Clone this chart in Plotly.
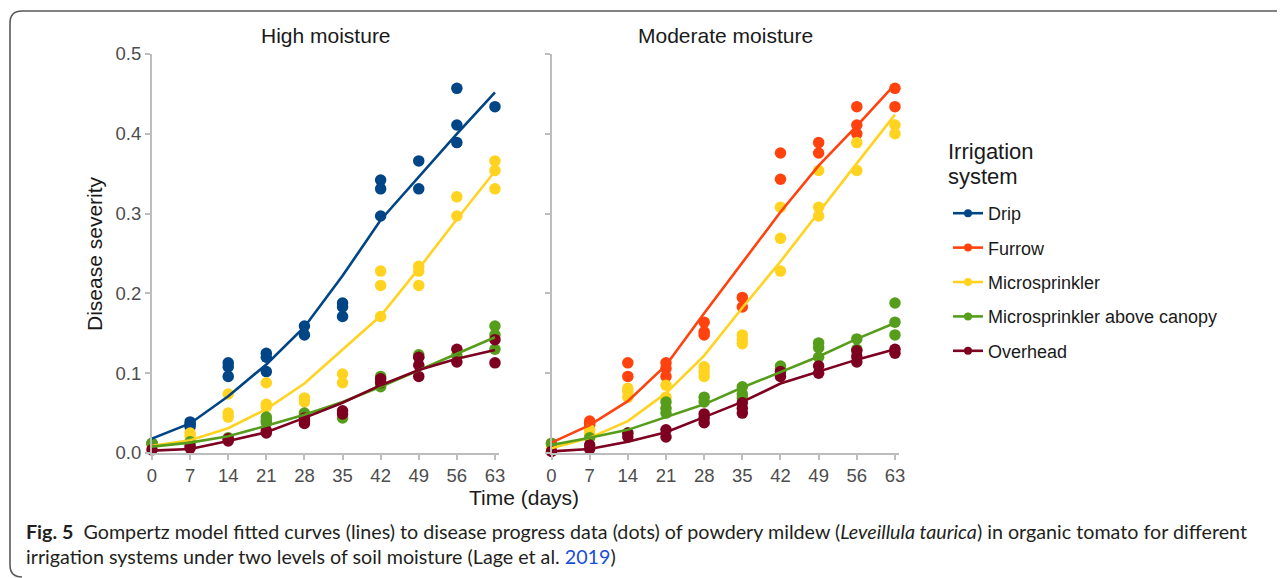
import plotly.graph_objects as go

W, H = 1285, 578
OFF = 8  # page body margin

days = [0, 7, 14, 21, 28, 35, 42, 49, 56, 63]
y_ticks = [0.0, 0.1, 0.2, 0.3, 0.4, 0.5]
y_tick_labels = ["0.0", "0.1", "0.2", "0.3", "0.4", "0.5"]
panel_titles = ["High moisture", "Moderate moisture"]
systems = ["Drip", "Furrow", "Microsprinkler", "Microsprinkler above canopy", "Overhead"]

# Observed disease severity (dots), per day
hi_drip_obs = [[0.012], [0.039, 0.036, 0.033], [0.113, 0.108, 0.096], [0.125, 0.120, 0.102],
               [0.159, 0.148], [0.188, 0.183, 0.171], [0.342, 0.331, 0.297], [0.366, 0.331],
               [0.457, 0.411, 0.389], [0.434]]
hi_micro_obs = [[0.010], [0.025, 0.021], [0.074, 0.050, 0.045], [0.088, 0.061, 0.058],
                [0.069, 0.064], [0.099, 0.088], [0.228, 0.210, 0.171], [0.234, 0.228, 0.210],
                [0.321, 0.297], [0.366, 0.354, 0.331]]
hi_mac_obs = [[0.012], [0.014], [0.019], [0.045, 0.041, 0.038], [0.050, 0.047], [0.044],
              [0.096, 0.089, 0.083], [0.123, 0.120], [0.122], [0.159, 0.148, 0.130]]
hi_ovh_obs = [[0.004], [0.006, 0.009], [0.015, 0.018], [0.025, 0.028], [0.044, 0.040, 0.037],
              [0.053, 0.049], [0.093, 0.088], [0.120, 0.110, 0.096], [0.130, 0.114], [0.142, 0.113]]

mo_furrow_obs = [[0.012], [0.040, 0.037, 0.035], [0.113, 0.096], [0.113, 0.106, 0.096],
                 [0.164, 0.152, 0.148], [0.195, 0.183], [0.376, 0.343], [0.389, 0.376],
                 [0.434, 0.411, 0.400], [0.457, 0.434]]
mo_micro_obs = [[0.008], [0.029, 0.024], [0.081, 0.077, 0.070], [0.085, 0.070],
                [0.108, 0.102, 0.096], [0.148, 0.142, 0.137], [0.308, 0.269, 0.228],
                [0.354, 0.308, 0.297], [0.389, 0.354], [0.411, 0.400]]
mo_mac_obs = [[0.012], [0.019], [0.025], [0.064, 0.056, 0.050], [0.070, 0.064],
              [0.083, 0.074, 0.069], [0.109, 0.106], [0.138, 0.132, 0.120], [0.143, 0.130],
              [0.188, 0.164, 0.148]]
mo_ovh_obs = [[0.002], [0.010, 0.005], [0.025, 0.020], [0.029, 0.020], [0.049, 0.044, 0.038],
              [0.063, 0.056, 0.050], [0.102, 0.096], [0.109, 0.100], [0.128, 0.121, 0.114],
              [0.130, 0.125]]

# Gompertz fitted curves (lines), per day
hi_drip_fit = [0.018, 0.037, 0.071, 0.111, 0.158, 0.222, 0.292, 0.346, 0.400, 0.452]
hi_micro_fit = [0.009, 0.016, 0.031, 0.055, 0.087, 0.129, 0.172, 0.231, 0.293, 0.353]
hi_mac_fit = [0.008, 0.013, 0.021, 0.034, 0.048, 0.064, 0.083, 0.104, 0.124, 0.145]
hi_ovh_fit = [0.003, 0.005, 0.015, 0.026, 0.044, 0.063, 0.085, 0.104, 0.118, 0.129]

mo_furrow_fit = [0.013, 0.035, 0.065, 0.110, 0.175, 0.238, 0.302, 0.360, 0.410, 0.462]
mo_micro_fit = [0.006, 0.019, 0.040, 0.075, 0.122, 0.182, 0.240, 0.302, 0.363, 0.424]
mo_mac_fit = [0.010, 0.019, 0.029, 0.045, 0.061, 0.082, 0.101, 0.121, 0.143, 0.163]
mo_ovh_fit = [0.002, 0.005, 0.014, 0.026, 0.045, 0.064, 0.087, 0.102, 0.117, 0.130]

colors = {
    "Drip": "#004586",
    "Furrow": "#ff420e",
    "Microsprinkler": "#ffd320",
    "Microsprinkler above canopy": "#579d1c",
    "Overhead": "#7e0021",
}

panels = [
    ("x", "y", [("Drip", hi_drip_obs, hi_drip_fit), ("Microsprinkler", hi_micro_obs, hi_micro_fit),
                ("Microsprinkler above canopy", hi_mac_obs, hi_mac_fit), ("Overhead", hi_ovh_obs, hi_ovh_fit)]),
    ("x2", "y2", [("Furrow", mo_furrow_obs, mo_furrow_fit), ("Microsprinkler", mo_micro_obs, mo_micro_fit),
                  ("Microsprinkler above canopy", mo_mac_obs, mo_mac_fit), ("Overhead", mo_ovh_obs, mo_ovh_fit)]),
]

fig = go.Figure()

for xa, ya, series in panels:
    for name, obs, fit in series:
        xs, ys = [], []
        for d, vals in zip(days, obs):
            for v in vals:
                xs.append(d)
                ys.append(v)
        fig.add_trace(go.Scatter(x=xs, y=ys, mode="markers", xaxis=xa, yaxis=ya,
                                 marker=dict(color=colors[name], size=11.5, line=dict(width=0)),
                                 showlegend=False, cliponaxis=False, hoverinfo="skip"))
    for name, obs, fit in series:
        fig.add_trace(go.Scatter(x=days, y=fit, mode="lines", xaxis=xa, yaxis=ya,
                                 line=dict(color=colors[name], width=2.6),
                                 showlegend=False, cliponaxis=False))

# legend entries
for name in systems:
    fig.add_trace(go.Scatter(x=[None], y=[None], mode="lines+markers", name=name,
                             legendgroup=name, line=dict(color=colors[name], width=2.6),
                             marker=dict(color=colors[name], size=8)))


def fx(px):
    return (px - OFF) / W


def fy(py):
    return 1 - (py - OFF) / H


y_dom = [fy(453), fy(54)]
x1_dom = [fx(152), fx(152 + 63.8 * 5.444)]
x2_dom = [fx(551.5), fx(551.5 + 63.8 * 5.452)]

axis_common = dict(showline=True, linecolor="#bdbdbd", linewidth=2, ticks="outside",
                   ticklen=5, tickwidth=2, tickcolor="#bdbdbd", showgrid=False, zeroline=False,
                   tickfont=dict(family="Liberation Sans, Arial, sans-serif", size=18.5, color="#4d4d4d"))

fig.update_layout(
    width=W, height=H,
    margin=dict(l=0, r=0, t=0, b=0, autoexpand=False),
    paper_bgcolor="white", plot_bgcolor="white",
    font=dict(family="Liberation Sans, Arial, sans-serif", color="#1a1a1a"),
    xaxis=dict(domain=x1_dom, range=[0, 63.8], tickvals=days, anchor="y", **axis_common),
    xaxis2=dict(domain=x2_dom, range=[0, 63.8], tickvals=days, anchor="y2", **axis_common),
    yaxis=dict(domain=y_dom, range=[0, 0.5], tickvals=y_ticks, ticktext=y_tick_labels,
               anchor="x", **axis_common),
    yaxis2=dict(domain=y_dom, range=[0, 0.5], tickvals=y_ticks, ticktext=y_tick_labels,
                showticklabels=False, anchor="x2", **axis_common),
    legend=dict(x=fx(948), y=fy(195), xanchor="left", yanchor="top",
                font=dict(size=18, color="#1a1a1a"), traceorder="grouped", tracegroupgap=8,
                bgcolor="rgba(0,0,0,0)"),
    showlegend=True,
)

ann_font = dict(family="Liberation Sans, Arial, sans-serif", size=21, color="#1a1a1a")
leg_title_font = dict(family="Liberation Sans, Arial, sans-serif", size=22, color="#1a1a1a")
cap_font = dict(family="Lato, sans-serif", size=19.7, color="#231f20")
annotations = [
    dict(text=panel_titles[0], x=fx(326), y=fy(35), xanchor="center", yanchor="middle",
         font=ann_font),
    dict(text=panel_titles[1], x=fx(725), y=fy(35), xanchor="center", yanchor="middle",
         font=ann_font),
    dict(text="Disease severity", x=fx(94), y=fy(254), xanchor="center", yanchor="middle",
         textangle=-90, font=ann_font),
    dict(text="Time (days)", x=fx(524), y=fy(497), xanchor="center", yanchor="middle",
         font=ann_font),
    dict(text="Irrigation", x=fx(946), y=fy(151), xanchor="left", yanchor="middle",
         font=leg_title_font),
    dict(text="system", x=fx(946), y=fy(176), xanchor="left", yanchor="middle",
         font=leg_title_font),
    dict(text="<b>Fig. 5</b>  Gompertz model fitted curves (lines) to disease progress data (dots) of powdery mildew (<i>Leveillula taurica</i>) in organic tomato for different",
         x=fx(24), y=fy(531), xanchor="left", yanchor="middle", font=cap_font),
    dict(text="irrigation systems under two levels of soil moisture (Lage et al. <span style='color:#1a4fd6'>2019</span>)",
         x=fx(24), y=fy(556), xanchor="left", yanchor="middle", font=cap_font),
]
for a in annotations:
    a.update(xref="paper", yref="paper", showarrow=False)
fig.update_layout(annotations=annotations)

# rounded figure frame
L, T, B, R = 10, 11, 577, 1310
r = 12
path = (f"M {fx(R)},{fy(T)} L {fx(L + r)},{fy(T)} Q {fx(L)},{fy(T)} {fx(L)},{fy(T + r)} "
        f"L {fx(L)},{fy(B - r)} Q {fx(L)},{fy(B)} {fx(L + r)},{fy(B)}")
fig.add_shape(type="path", path=path, xref="paper", yref="paper",
              line=dict(color="#5a5a5a", width=1.6))

fig.write_html("out.html")
